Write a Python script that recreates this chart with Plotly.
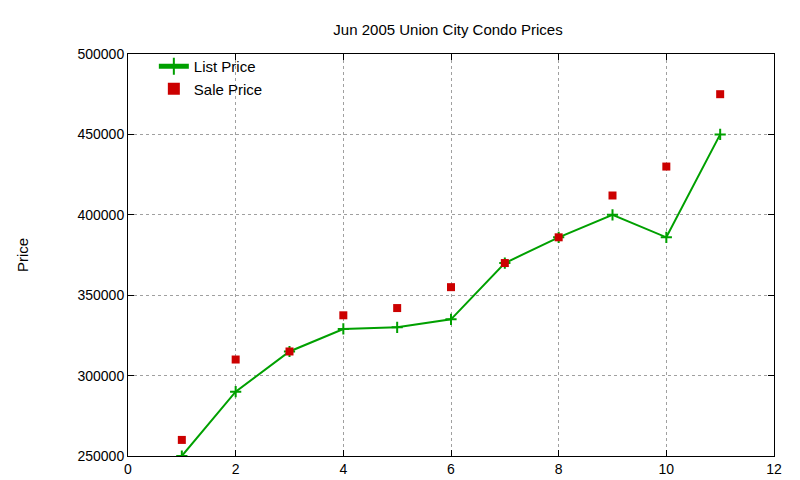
import plotly.graph_objects as go

x = [1, 2, 3, 4, 5, 6, 7, 8, 9, 10, 11]
list_price = [250000, 290000, 315000, 329000, 330000, 335000, 370000, 386000, 400000, 386000, 450000]
sale_price = [260000, 310000, 315000, 337500, 342000, 355000, 370000, 386000, 412000, 430000, 475000]

fig = go.Figure()
fig.add_trace(go.Scatter(x=x, y=list_price, name="List Price", mode="lines+markers", legendrank=1,
                         line=dict(color="#00a000", width=2),
                         marker=dict(symbol="cross-thin", size=8, line=dict(color="#00a000", width=2))))
fig.add_trace(go.Scatter(x=x, y=sale_price, name="Sale Price", mode="markers", legendrank=2,
                         marker=dict(symbol="square", size=8, color="#cc0000")))

axis_common = dict(showline=True, linecolor="black", linewidth=1, mirror="ticks",
                   ticks="inside", ticklen=6, tickcolor="black", automargin=False,
                   showgrid=True, gridcolor="#a0a0a0", griddash="dot", gridwidth=1,
                   zeroline=False, tickfont=dict(size=14, color="black"))
fig.update_xaxes(range=[0, 12], dtick=2, **axis_common)
fig.update_yaxes(range=[250000, 500000], dtick=50000, tickformat="d",
                 title=dict(text="Price", font=dict(size=15, color="black"), standoff=45), **axis_common)

fig.update_layout(
    width=800, height=480,
    margin=dict(l=120, r=34, t=46, b=32),
    paper_bgcolor="white", plot_bgcolor="white",
    font=dict(family="Liberation Sans, Arial, sans-serif", color="black"),
    title=dict(text="Jun 2005 Union City Condo Prices", x=0.55, xanchor="center",
               y=0.955, yanchor="middle", font=dict(size=15), automargin=False),
    legend=dict(x=0.04, y=1.01, xanchor="left", yanchor="top", bgcolor="rgba(0,0,0,0)",
                font=dict(size=15), tracegroupgap=0, itemsizing="constant"),
    showlegend=True,
)
fig.write_html("out.html")
